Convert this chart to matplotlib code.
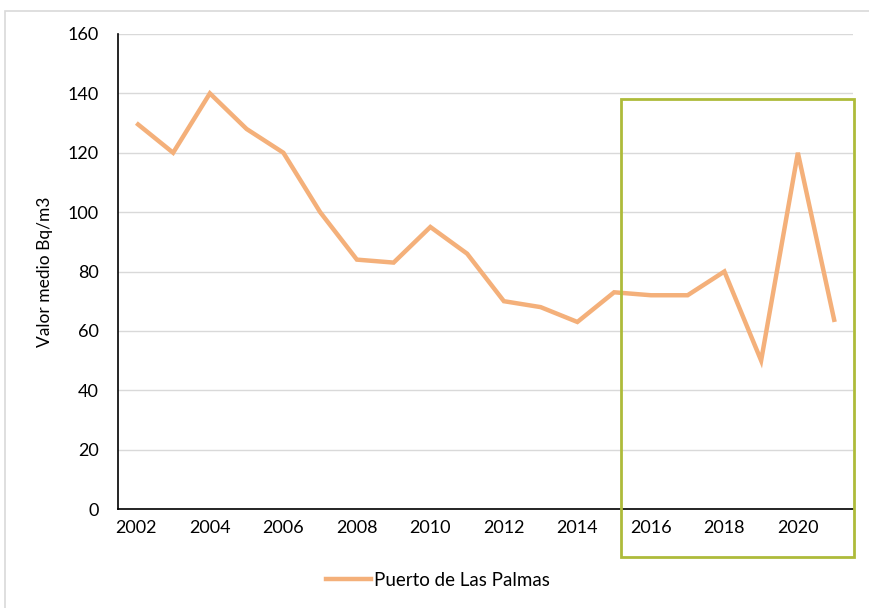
import matplotlib
matplotlib.use("Agg")
import matplotlib.pyplot as plt
from matplotlib.patches import Rectangle
from matplotlib.lines import Line2D

years = list(range(2002, 2022))
values = [130, 120, 140, 128, 120, 100, 84, 83, 95, 86, 70, 68, 63, 73, 72, 72, 80, 50, 120, 63]
xticks = list(range(2002, 2021, 2))
yticks = list(range(0, 161, 20))
series_name = "Puerto de Las Palmas"
ylabel = "Valor medio Bq/m3"

plt.rcParams['font.family'] = ['Lato', 'DejaVu Sans']

fig = plt.figure(figsize=(8.69, 6.08), dpi=100)
# outer chart frame
fig.patches.append(Rectangle((5/869, -0.01), 1.0, 1 - 11/608 + 0.01, transform=fig.transFigure,
                             fill=False, edgecolor='#D9D9D9', linewidth=1.2))
ax = fig.add_axes([118/869, 1 - 509/608, (853 - 118)/869, (509 - 34)/608])

ax.plot(years, values, color='#F4B07A', linewidth=3.2, solid_capstyle='butt', solid_joinstyle='miter', zorder=3)
ax.set_xlim(2001.5, 2021.5)
ax.set_ylim(0, 160)
ax.set_xticks(xticks)
ax.set_yticks(yticks)
ax.tick_params(axis='both', length=0, labelsize=13, colors='black', pad=8)
ax.tick_params(axis='y', pad=14)
ax.grid(axis='y', color='#D9D9D9', linewidth=1)
ax.set_axisbelow(True)
for s in ['top', 'right']:
    ax.spines[s].set_visible(False)
ax.spines['left'].set_color('black')
ax.spines['bottom'].set_color('black')
ax.spines['left'].set_linewidth(1.2)
ax.spines['bottom'].set_linewidth(1.2)
ax.set_ylabel(ylabel, fontsize=12.5, labelpad=10)

# highlight rectangle (data coords, extends below axis)
ax.add_patch(Rectangle((2015.2, -16.2), 2021.53 - 2015.2, 138 + 16.2, fill=False,
                       edgecolor='#AEBB3A', linewidth=2, clip_on=False, zorder=4))

handle = Line2D([0], [0], color='#F4B07A', linewidth=3.2)
fig.legend([handle], [series_name], loc='center', bbox_to_anchor=(438/869, 1 - 580/608),
           frameon=False, fontsize=13.5, handlelength=2.4, handletextpad=0.15)

fig.savefig("out.png", dpi=100, facecolor='white')
